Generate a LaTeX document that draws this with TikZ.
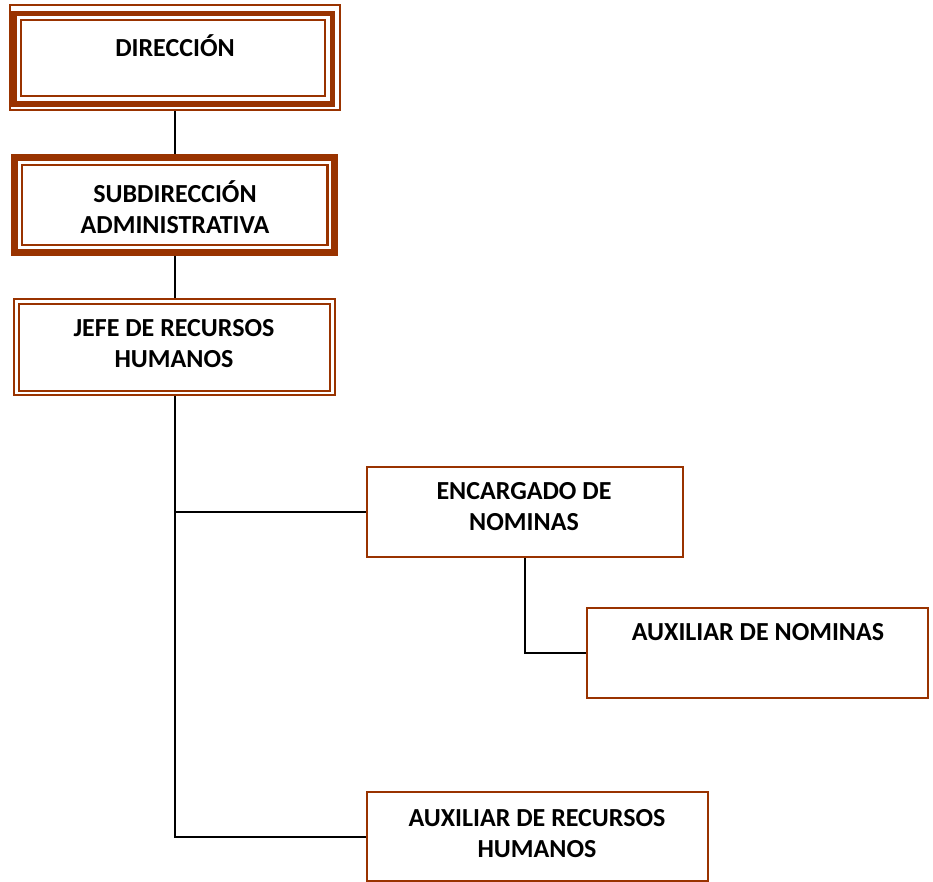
\documentclass[tikz,border=0pt]{standalone}
\usepackage{fontspec}
\setmainfont{Carlito}
\usetikzlibrary{backgrounds}
\definecolor{brn}{RGB}{153,51,0}
\tikzset{
  unitbox/.style={draw=brn, fill=white, line width=2pt, inner sep=0pt, outer sep=0pt},
  label text/.style={font=\fontsize{26}{31}\selectfont\bfseries, align=center, inner sep=0pt, anchor=base},
  link/.style={draw=black, line width=2pt}
}
\begin{document}
\begin{tikzpicture}[x=1pt,y=-1pt]
\useasboundingbox (0,0) rectangle (933,882);

% Dirección: thin-thick-thin frame
\node[unitbox, minimum width=330pt, minimum height=105pt] (dir) at (174.5,58) {};
\draw[brn, line width=5.5pt] ([shift={(4.5,8)}]dir.north west) rectangle ([shift={(-7,-6.5)}]dir.south east);
\draw[brn, line width=2pt] ([shift={(11.5,14.5)}]dir.north west) rectangle ([shift={(-15,-14.5)}]dir.south east);
\node[label text] (dirt) at (175,56.7) {DIRECCIÓN};

% Subdirección: thick-thin frame
\node[unitbox, line width=7pt, minimum width=320pt, minimum height=95pt] (sub) at (174.5,205) {};
\draw[brn, line width=2.5pt] ([shift={(7.5,7.5)}]sub.north west) rectangle ([shift={(-7,-7.5)}]sub.south east);
\node[label text] (subt) at (175,233.3) {SUBDIRECCIÓN\\ADMINISTRATIVA};

% Jefe de recursos humanos: double frame
\node[unitbox, minimum width=321pt, minimum height=96pt] (jefe) at (174.5,347) {};
\draw[brn, line width=2.5pt] ([shift={(5,5)}]jefe.north west) rectangle ([shift={(-5,-4)}]jefe.south east);
\node[label text] (jefet) at (174,367.7) {JEFE DE RECURSOS\\HUMANOS};

% Single-frame units
\node[unitbox, minimum width=316pt, minimum height=90pt] (enc) at (525,512) {};
\node[label text] (enct) at (524,530) {ENCARGADO DE\\NOMINAS};

\node[unitbox, minimum width=341pt, minimum height=90pt] (auxn) at (757.5,653) {};
\node[label text] (auxnt) at (758,640) {AUXILIAR DE NOMINAS};

\node[unitbox, minimum width=341pt, minimum height=89pt] (auxrh) at (537.5,836.5) {};
\node[label text] (auxrht) at (537,857) {AUXILIAR DE RECURSOS\\HUMANOS};

% Connectors
\begin{scope}[on background layer]
\draw[link] (dir.south) -- (sub.north);
\draw[link] (sub.south) -- (jefe.north);
\draw[link] (jefe.south) |- (auxrh.west);
\draw[link] (jefe.south |- enc.west) -- (enc.west);
\draw[link] (enc.south) |- (auxn.west);
\end{scope}
\end{tikzpicture}
\end{document}
